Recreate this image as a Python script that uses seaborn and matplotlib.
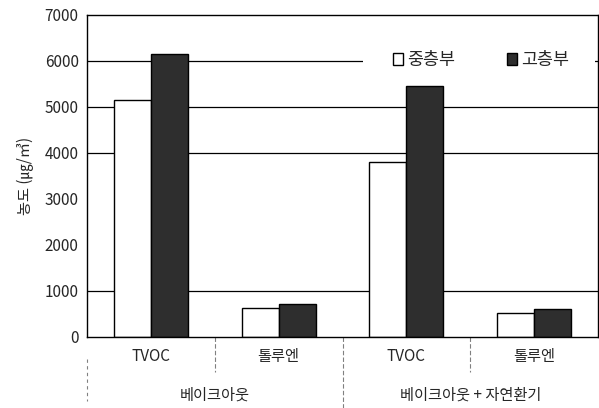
import matplotlib
matplotlib.use("Agg")
import matplotlib.pyplot as plt
import seaborn as sns
import pandas as pd
from matplotlib.patches import Patch, Rectangle

categories = ["TVOC", "톨루엔", "TVOC ", "톨루엔 "]
groups = ["베이크아웃", "베이크아웃 + 자연환기"]
series_names = ["중층부", "고층부"]
mid_values = [5150, 620, 3800, 510]
high_values = [6150, 720, 5450, 600]
yticks = [0, 1000, 2000, 3000, 4000, 5000, 6000, 7000]
grid_levels = [1000, 4000, 5000, 6000]

sns.set_theme(style="white")
plt.rcParams['font.family'] = ['Noto Sans CJK KR', 'DejaVu Sans']

df = pd.DataFrame({
    "cat": categories * 2,
    "series": [series_names[0]] * 4 + [series_names[1]] * 4,
    "value": mid_values + high_values,
})

fig = plt.figure(figsize=(5.99, 4.08), dpi=100)
ax = fig.add_axes([87/599, 1 - 336.7/408, (598-87)/599, (336.7-14.7)/408])

sns.barplot(data=df, x="cat", y="value", hue="series", order=categories,
            hue_order=series_names, palette=["white", "#2e2e2e"],
            width=0.58, edgecolor="black", linewidth=1.0, ax=ax, legend=False)

for lvl in grid_levels:
    ax.axhline(lvl, color="black", linewidth=0.9, zorder=0)

# white legend area covering the gridline
ax.add_patch(Rectangle((0.54, 0.815), 0.455, 0.09, transform=ax.transAxes,
                       facecolor="white", edgecolor="none", zorder=0.5))

ax.set_ylim(0, 7000)
ax.set_xlim(-0.5, 3.5)
ax.set_yticks(yticks)
ax.set_yticklabels([str(v) for v in yticks], fontsize=11)
ax.tick_params(axis="y", length=0, pad=6)
ax.set_xticks(range(4))
ax.set_xticklabels(["TVOC", "톨루엔", "TVOC", "톨루엔"], fontsize=11)
ax.tick_params(axis="x", length=0, pad=8)
ax.set_xlabel("")
ax.set_ylabel("농도 (㎍/㎥)", fontsize=11, labelpad=8)
for s in ax.spines.values():
    s.set_color("black")
    s.set_linewidth(1.0)

# separators below axis
for xv, y0 in [(0.5, -0.11), (1.5, -0.23), (2.5, -0.11)]:
    ax.plot([xv, xv], [0, y0], transform=ax.get_xaxis_transform(),
            color="gray", linewidth=0.8, linestyle=(0, (4, 2)), clip_on=False)
ax.plot([-0.5, -0.5], [-0.07, -0.2], transform=ax.get_xaxis_transform(),
        color="gray", linewidth=0.8, linestyle=(0, (3, 3)), clip_on=False)

ax.text(0.5, -0.18, groups[0], transform=ax.get_xaxis_transform(),
        ha="center", va="center", fontsize=11)
ax.text(2.5, -0.18, groups[1], transform=ax.get_xaxis_transform(),
        ha="center", va="center", fontsize=11)

# legend
handles = [Patch(facecolor="white", edgecolor="black", label=series_names[0]),
           Patch(facecolor="#2e2e2e", edgecolor="black", label=series_names[1])]
ax.legend(handles=handles, loc="center left", bbox_to_anchor=(0.582, 0.86), ncol=2,
          frameon=False, fontsize=12.5, handlelength=0.6, handleheight=0.7,
          handletextpad=0.2, columnspacing=3.0, borderpad=0)

fig.savefig("out.png", dpi=100)
